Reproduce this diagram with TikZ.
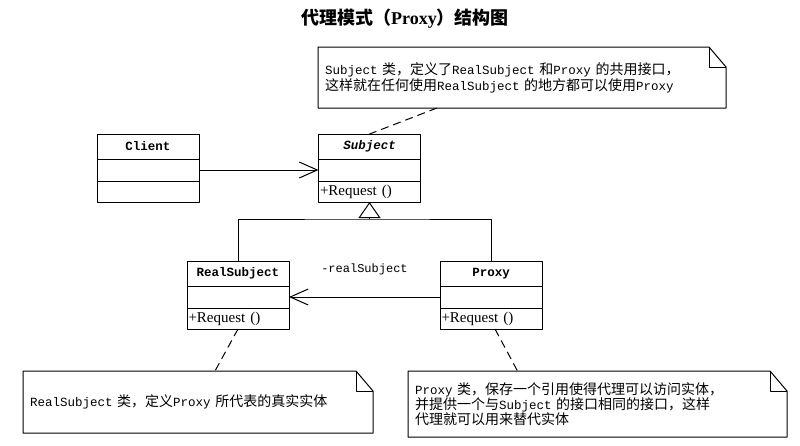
\documentclass[tikz,border=0pt]{standalone}
\usepackage{fontspec}
\setmainfont{Noto Sans CJK SC}
\newfontfamily\monofont{Liberation Mono}
\newfontfamily\seriffont{Liberation Serif}
\usetikzlibrary{positioning,arrows.meta}
\newcommand\engl[1]{{\monofont\fontsize{12.5}{16}\selectfont #1}}
\begin{document}
\begin{tikzpicture}[x=1pt,y=-1pt,line join=round,line width=1pt,
	classname/.style={draw,minimum width=102pt,minimum height=25pt,inner sep=0pt,outer sep=0pt,font=\monofont\bfseries\fontsize{12.5}{14}\selectfont},
	attrbox/.style={draw,minimum width=102pt,minimum height=22pt,inner sep=0pt,outer sep=0pt},
	opbox/.style={draw,minimum height=21pt,text width=99pt,inner xsep=1.5pt,inner ysep=0pt,outer sep=0pt,align=left,font=\seriffont\fontsize{15}{16}\selectfont},
	notebox/.style={inner xsep=7pt,inner ysep=0pt,outer sep=0pt,align=left,font=\fontsize{14}{16}\selectfont},
	notelink/.style={dashed,dash pattern=on 8pt off 5pt},
	assoc/.style={-{Straight Barb[length=18pt,width=16pt]}}]
	\useasboundingbox (0,0) rectangle (800,445);
	\node (title) at (405,19) {\fontsize{18}{20}\selectfont\bfseries 代理模式（{\seriffont Proxy}）结构图};
	% classes
	\foreach \c/\t/\x/\y/\op in {client/Client/148/146.5/,sub/\textit{Subject}/369.5/146.5/+Request (),rs/RealSubject/238/273.5/+Request (),px/Proxy/491/273.5/+Request ()}{
		\node[classname] (\c) at (\x,\y) {\t};
		\node[attrbox,below=0pt of \c] (\c-attr) {};
		\node[opbox,below=0pt of \c-attr] (\c-op) {\op};
	}
	\draw[assoc] (client-attr.east) -- (sub-attr.west);
	\draw[assoc] (px-attr.west) -- node[above=18pt,font=\monofont\fontsize{12}{14}\selectfont] (rsname) {-realSubject} (rs-attr.east);
	\coordinate (fork) at (369.5,219);
	\draw (rs.north) |- (fork) -| (px.north);
	\draw[-{Triangle[open,length=16pt,width=22pt]}] (fork) -- (sub-op.south);
	% notes
	\node[notebox,text width=394pt,minimum height=61pt] (subnote) at (522,77.5) {\engl{Subject} 类，定义了\engl{RealSubject} 和\engl{Proxy} 的共用接口，\\这样就在任何使用\engl{RealSubject} 的地方都可以使用\engl{Proxy}};
	\node[notebox,text width=336pt,minimum height=62pt] (rsnote) at (198,402) {\engl{RealSubject} 类，定义\engl{Proxy} 所代表的真实实体};
	\node[notebox,text width=365pt,minimum height=66pt,font=\fontsize{14}{15}\selectfont] (pxnote) at (597.5,404) {\engl{Proxy} 类，保存一个引用使得代理可以访问实体，\\并提供一个与\engl{Subject} 的接口相同的接口，这样\\代理就可以用来替代实体};
	\foreach \n in {subnote,rsnote,pxnote}{
		\draw (\n.north west) -- ([xshift=-17pt]\n.north east) -- ([yshift=-20pt]\n.north east) -- (\n.south east) -- (\n.south west) -- cycle;
		\draw ([xshift=-17pt]\n.north east) |- ([yshift=-20pt]\n.north east);
	}
	\draw[notelink] ([xshift=-85pt]subnote.south) -- (sub.north);
	\draw[notelink] (rs-op.south) -- ([xshift=17pt]rsnote.north);
	\draw[notelink] ([xshift=4pt]px-op.south) -- ([xshift=-80pt]pxnote.north);
\end{tikzpicture}
\end{document}
